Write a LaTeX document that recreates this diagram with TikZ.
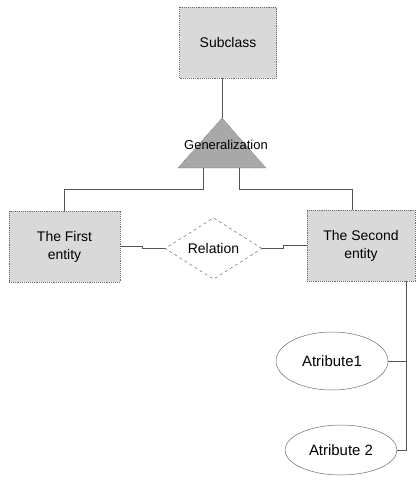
\documentclass[tikz,border=0pt]{standalone}
\usepackage{fontspec}
\setmainfont{Liberation Sans}
\definecolor{ERBoxGray}{HTML}{D9D9D9}
\definecolor{ERTriGray}{HTML}{A8A8A8}
\definecolor{ERLine}{HTML}{555555}
\definecolor{ERBorder}{HTML}{6E6E6E}
\usepackage{tikz}
\usetikzlibrary{shapes,positioning,calc}
\tikzset{
    % Base node style
    basenode/.style={
        align=center,
        font=\fontsize{14}{18}\selectfont,
        inner sep=0pt
    },
    % Entity box style
    entitynode/.style={
        basenode,
        draw=ERBorder,
        densely dotted,
        line width=0.9pt,
        fill=ERBoxGray,
        minimum height=71bp,
        minimum width=110bp
    },
    % Relation diamond style
    relationnode/.style={
        basenode,
        diamond,
        draw=ERBorder,
        dashed,
        line width=0.5pt,
        fill=white,
        minimum width=97bp,
        minimum height=51bp
    },
    % Attribute ellipse style
    attrnode/.style={
        basenode,
        ellipse,
        draw=ERBorder,
        line width=0.5pt,
        fill=white,
        minimum width=112bp,
        minimum height=55bp,
        font=\fontsize{15}{18}\selectfont
    },
    % Generalization triangle
    gentri/.style={
        draw=ERBorder,
        densely dotted,
        line width=0.6pt,
        fill=ERTriGray
    },
    % Connector style (straight lines only)
    erline/.style={
        line width=0.6pt,
        draw=ERLine
    }
}
\begin{document}
\begin{tikzpicture}[x=1bp,y=-1bp]
    \useasboundingbox (0,0) rectangle (417,481);

    \node[entitynode,minimum width=97bp] (sub) at (228,42.5) {Subclass};

    \coordinate (genapex) at (222,118);
    \coordinate (genleft) at (178,168);
    \coordinate (genright) at (266,168);
    \draw[gentri] (genapex) -- (genright) -- (genleft) -- cycle;
    \node[basenode,font=\fontsize{13}{16}\selectfont] (gentext) at (226,145) {Generalization};
    \coordinate (genl) at (203,168);
    \coordinate (genr) at (239,168);

    \node[entitynode,minimum width=111bp] (first) at (64.5,246.5) {The First\\entity};
    \node[relationnode] (rel) at (213.5,248.5) {Relation};
    \node[entitynode,minimum width=108bp] (second) at (361,245.5) {The Second\\entity};

    \node[attrnode,minimum height=58bp] (attr1) at (332,361) {Atribute1};
    \node[attrnode,minimum height=50bp] (attr2) at (341,450) {Atribute 2};
    \coordinate (bus) at (406,0);

    \draw[erline] (genapex |- sub.south) -- (genapex);
    \draw[erline] (genl) -- ++(0,21) -| (first.north);
    \draw[erline] (genr) -- ++(0,21) -| ([xshift=-9bp]second.north);
    \draw[erline] (first.east) -- ++(22,0) |- (rel.west);
    \draw[erline] (rel.east) -- ++(21,0) |- (second.west);
    \draw[erline] (second.south -| bus) |- (attr2.east);
    \draw[erline] (attr1.east) -- (attr1.east -| bus);
\end{tikzpicture}
\end{document}
